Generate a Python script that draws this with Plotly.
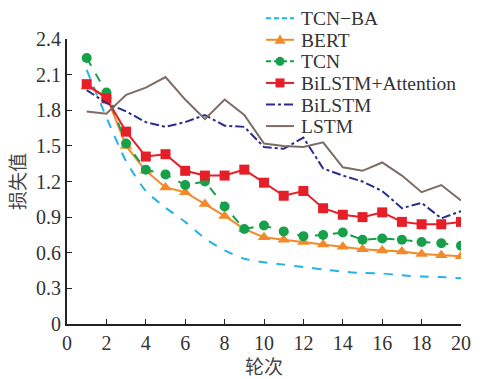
import plotly.graph_objects as go

epochs = list(range(1, 21))
tcn_ba = [2.14, 1.74, 1.37, 1.12, 0.98, 0.86, 0.72, 0.62, 0.55, 0.52, 0.50, 0.48, 0.46, 0.44, 0.43, 0.425, 0.41, 0.40, 0.395, 0.385]
bert = [2.00, 1.92, 1.50, 1.29, 1.15, 1.11, 1.01, 0.91, 0.80, 0.73, 0.71, 0.69, 0.67, 0.65, 0.63, 0.62, 0.61, 0.59, 0.58, 0.57]
tcn = [2.24, 1.95, 1.52, 1.30, 1.26, 1.17, 1.20, 0.99, 0.80, 0.83, 0.78, 0.74, 0.75, 0.77, 0.71, 0.72, 0.71, 0.69, 0.68, 0.66]
bilstm_att = [2.02, 1.90, 1.62, 1.41, 1.43, 1.29, 1.25, 1.25, 1.30, 1.19, 1.08, 1.12, 0.975, 0.92, 0.90, 0.94, 0.86, 0.84, 0.84, 0.86]
bilstm = [1.97, 1.86, 1.79, 1.70, 1.66, 1.70, 1.76, 1.67, 1.66, 1.49, 1.475, 1.57, 1.31, 1.25, 1.20, 1.12, 0.975, 1.02, 0.89, 0.95]
lstm = [1.79, 1.77, 1.93, 1.99, 2.08, 1.89, 1.725, 1.89, 1.76, 1.52, 1.50, 1.49, 1.53, 1.32, 1.29, 1.36, 1.25, 1.11, 1.17, 1.04]

names = ["TCN\u2212BA", "BERT", "TCN", "BiLSTM+Attention", "BiLSTM", "LSTM"]
colors = ["#22b2e6", "#f28a2c", "#17a04a", "#e61e28", "#2a2d8c", "#7b6c64"]
dashes = ["dash", "solid", "dash", "solid", "dashdot", "solid"]
symbols = [None, "triangle", "circle", "square", None, None]
series = [tcn_ba, bert, tcn, bilstm_att, bilstm, lstm]

serif = "Liberation Serif, Times New Roman, serif"
cjk = "Noto Sans CJK SC"

fig = go.Figure()
mk = {"triangle": "triangle-up", "circle": "circle", "square": "square"}
msize = {"triangle": 11, "circle": 10, "square": 10}
for name, col, dsh, sym, ys in zip(names, colors, dashes, symbols, series):
    line = dict(color=col, width=2, dash=dsh)
    if name == names[0]:
        line.update(shape="spline", smoothing=0.6)
    kw = dict(x=epochs, y=ys, name=name, line=line, showlegend=False)
    if sym:
        kw.update(mode="lines+markers", marker=dict(symbol=mk[sym], size=msize[sym], color=col))
    else:
        kw.update(mode="lines")
    fig.add_trace(go.Scatter(**kw))

# manual legend (compact spacing like the reference)
L, R, T, B = 67, 25, 39, 52
W, H = 486, 379
pw, ph = W - L - R, H - T - B
def px2x(p):
    return (p - L) / pw
def py2y(p):
    return (H - B - p) / ph

shapes = []
annotations = []
row0, step = 18, 21.8
for i, (name, col, dsh, sym) in enumerate(zip(names, colors, dashes, symbols)):
    yy = py2y(row0 + i * step)
    shapes.append(dict(type="line", xref="paper", yref="paper", x0=px2x(266), x1=px2x(294),
                       y0=yy, y1=yy, line=dict(color=col, width=2,
                                                dash="5px,3px" if dsh == "dash" else dsh)))
    if sym == "circle":
        shapes.append(dict(type="circle", xref="paper", yref="paper", xsizemode="pixel", ysizemode="pixel",
                           xanchor=px2x(280), yanchor=yy, x0=-4.5, x1=4.5, y0=-4.5, y1=4.5,
                           fillcolor=col, line=dict(width=0)))
    elif sym == "square":
        shapes.append(dict(type="rect", xref="paper", yref="paper", xsizemode="pixel", ysizemode="pixel",
                           xanchor=px2x(280), yanchor=yy, x0=-4.5, x1=4.5, y0=-4.5, y1=4.5,
                           fillcolor=col, line=dict(width=0)))
    elif sym == "triangle":
        shapes.append(dict(type="path", xref="paper", yref="paper", xsizemode="pixel", ysizemode="pixel",
                           xanchor=px2x(280), yanchor=yy, path="M -5.5 -4 L 5.5 -4 L 0 5.5 Z",
                           fillcolor=col, line=dict(width=0)))
    annotations.append(dict(text=name, xref="paper", yref="paper", x=px2x(300), y=yy,
                            xanchor="left", yanchor="middle", showarrow=False, height=20, borderpad=0,
                            font=dict(family=serif, size=19.5, color="#333")))

fig.update_layout(
    width=W, height=H,
    margin=dict(l=L, r=R, t=T, b=B),
    paper_bgcolor="white", plot_bgcolor="white",
    font=dict(family=serif, size=20, color="#333"),
    showlegend=False,
    shapes=shapes, annotations=annotations,
    xaxis=dict(range=[0, 20], dtick=2, tick0=0, showline=True, linecolor="#222", linewidth=2,
               ticks="inside", ticklen=5, tickcolor="#222", showgrid=False, zeroline=False,
               tickfont=dict(family=serif, size=20, color="#333"),
               title=dict(text="轮次", font=dict(family=cjk, size=19, color="#444"), standoff=0)),
    yaxis=dict(range=[0, 2.4], dtick=0.3, tick0=0, showline=True, linecolor="#222", linewidth=2,
               ticks="inside", ticklen=5, tickcolor="#222", showgrid=False, zeroline=False,
               tickfont=dict(family=serif, size=20, color="#333"),
               title=dict(text="损失值", font=dict(family=cjk, size=19, color="#444"), standoff=5)),
)

fig.write_html("out.html")
